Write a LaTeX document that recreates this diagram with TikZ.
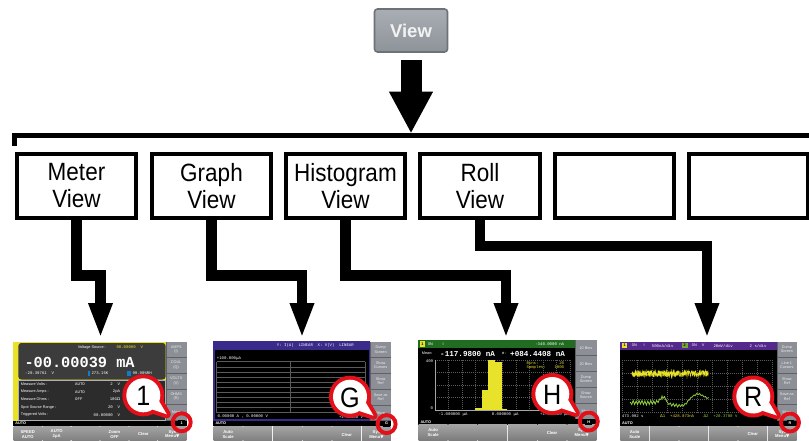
\documentclass[tikz,border=0pt]{standalone}
\usepackage{fontspec}
\setmainfont{Liberation Sans}
\newfontfamily\lab{Liberation Sans}[FakeStretch=0.9]
\newfontfamily\monof{Liberation Mono}
\newfontfamily\dvf{DejaVu Sans}
\usetikzlibrary{arrows.meta}
\definecolor{btntop}{HTML}{A9AEB5}
\definecolor{btnbot}{HTML}{8E939A}
\definecolor{btnedge}{HTML}{6E7276}
\definecolor{calred}{HTML}{E3101A}
\definecolor{scrdark}{HTML}{3C3C3C}
\definecolor{scrdarkb}{HTML}{2C2C2C}
\definecolor{keygray}{HTML}{8C9096}
\definecolor{keyline}{HTML}{5E6166}
\definecolor{bkeytop}{HTML}{A4A4A4}
\definecolor{bkeybot}{HTML}{7A7A7A}
\definecolor{myyel}{HTML}{E8E22A}
\definecolor{gpurple}{HTML}{3A2A8A}
\definecolor{rpurple}{HTML}{55288C}
\definecolor{hgreen}{HTML}{226C22}
\definecolor{tracegreen}{HTML}{8FD23A}
\definecolor{gridgray}{HTML}{5A5A5A}

% #1 main width, #2 total width, #3 side keys, #4 bottom keys
\newcommand\ScreenChrome[4]{%
  \fill[keygray] (#1,0) rectangle (#2,79);
  \foreach \k [count=\i from 0] in {#3} {
    \node[skey] at ({(#1+#2)/2},{7.9+15.8*\i}) {\k};
    \draw[keyline, line width=0.8pt] (#1,{15.8*(\i+1)}) -- (#2,{15.8*(\i+1)});
  }
  \draw[keyline, line width=0.8pt] ({#1+0.4},0) -- ({#1+0.4},79);
  \fill[black] (0,79) rectangle (#2,84.6);
  \node[tinyb, anchor=west] at (2,81.8) {AUTO};
  \foreach \k [count=\i from 0] in {#4} {
    \shade[top color=bkeytop, bottom color=bkeybot] ({#2/6*\i+0.4},84.6) rectangle ({#2/6*(\i+1)-0.4},101);
    \node[bkeytxt] at ({#2/6*(\i+0.5)},92.8) {\k};
  }
}
% #1 letter, #2 #3 bubble centre, #4 #5 ring centre
\newcommand\Callout[5]{%
  \draw[calred, line width=8pt, line join=round] (#2,#3) circle (17);
  \draw[calred, line width=8pt, line join=round] ({#2+15.9},{#3+6.1}) -- ({#2+23.5},{#3+19}) -- ({#2+9.3},{#3+14.3}) -- cycle;
  \fill[white] (#2,#3) circle (17);
  \fill[white] ({#2+15.9},{#3+6.1}) -- ({#2+23.5},{#3+19}) -- ({#2+9.3},{#3+14.3}) -- cycle;
  \node[inner sep=0pt, font=\lab\fontsize{28}{28}\selectfont] at ({#2},{#3+0.8}) {#1};
  \node[tinyb, anchor=east] at ({#4-7},81.8) {L};
  \fill[black] ({#4-3.5},78.8) rectangle ({#4+3.5},84.8);
  \node[tinyb] at (#4,81.8) {#1};
  \draw[calred, line width=3.9pt] (#4,#5) circle (9);
}

\begin{document}
\begin{tikzpicture}[x=1pt,y=-1pt,
  viewbox/.style={draw, line width=4pt, minimum width=119.5pt, minimum height=64pt, inner sep=0pt, align=center, font=\lab\fontsize{25}{27}\selectfont},
  conn/.style={line width=10.5pt, line join=miter, -{Triangle[width=22pt,length=35pt]}},
  viewbtn/.style={draw=btnedge, line width=1.6pt, rounded corners=3pt, top color=btntop, bottom color=btnbot, minimum width=73pt, minimum height=43pt, inner sep=0pt, text=white!95!black, font=\bfseries\fontsize{18.5}{18.5}\selectfont},
  tiny/.style={inner sep=0pt, font=\fontsize{3.8}{4.3}\selectfont, text=white},
  tinyb/.style={inner sep=0pt, font=\bfseries\fontsize{3.8}{4.3}\selectfont, text=white},
  tmono/.style={inner sep=0pt, font=\monof\fontsize{4}{4.5}\selectfont, text=white},
  skey/.style={inner sep=0pt, align=center, font=\fontsize{3.8}{4.4}\selectfont, text=white!92!black},
  bkeytxt/.style={inner sep=0pt, align=center, font=\bfseries\fontsize{4.2}{4.8}\selectfont, text=white}]
\useasboundingbox (0,0) rectangle (809,440);

% top button and arrow
\node[viewbtn] (view) at (411,30.5) {View};
\coordinate (bartop) at (411,133.5);
\draw[line width=21pt, -{Triangle[width=41pt,length=42pt]}] ([yshift=-7pt]view.south) -- (bartop);

% bracket bar
\coordinate (barL) at (14,146);
\coordinate (barR) at (812,135.5);
\draw[line width=5pt, line join=miter] (barL) |- (barR);

% view boxes
\node[viewbox] (meter) at (76.5,186) {Meter\\View};
\node[viewbox] (graph) at (211.5,186) {Graph\\View};
\node[viewbox] (hist) at (345.5,186) {Histogram\\View};
\node[viewbox] (roll) at (480,186) {Roll\\View};
\node[viewbox] (b5) at (614.5,186) {};
\node[viewbox] (b6) at (748.5,186) {};

% arrow targets
\coordinate (t1) at (100.5,338);
\coordinate (t2) at (302,338);
\coordinate (t3) at (506,338);
\coordinate (t4) at (707,338);

\draw[conn] (meter.south) -- ++(0,55.5) -| (t1);
\draw[conn] (graph.south) -- ++(0,55.5) -| (t2);
\draw[conn] (hist.south) -- ++(0,55.5) -| (t3);
\draw[conn] (roll.south) -- ++(0,26) -| (t4);

% ---------- Meter screen ----------
\begin{scope}[shift={(13.3,341.5)}]
  \fill[myyel] (0,0) rectangle (152.4,79);
  \fill[scrdark, rounded corners=3pt] (5,1.5) rectangle (152.4,38);
  \filldraw[fill=scrdarkb, draw=gray!60, line width=0.8pt] (5.4,38.4) rectangle (152.4,78.6);
  \node[tiny, anchor=west] at (64.4,6) {Voltage Source :};
  \node[tmono, anchor=west, text=myyel] at (103,6) {00.00000\ \ V};
  \node[inner sep=0pt, anchor=west, text=white, font=\monof\bfseries\fontsize{15.3}{15.3}\selectfont] at (11,20.5) {-00.00039 mA};
  \node[tmono, anchor=west] at (11.7,32) {-20.39761\ \ V};
  \fill[cyan!60!blue] (75,29.5) rectangle (76.2,34);
  \node[tmono, anchor=west] at (78,32) {273.15K};
  \fill[cyan!60!blue] (114,29.5) rectangle (115.2,34);
  \fill[cyan!60!blue] (116,29.5) rectangle (117.2,34);
  \node[tmono, anchor=west] at (119,32) {99.90\%RH};
  \node[tiny, anchor=west] at (7.4,42.6) {Measure Volts :};
  \node[tiny, anchor=west] at (7.4,50.2) {Measure Amps :};
  \node[tiny, anchor=west] at (7.4,58) {Measure Ohms :};
  \node[tiny, anchor=west] at (7.4,65.6) {Spot Source Range :};
  \node[tiny, anchor=west] at (7.4,73.4) {Triggered Volts :};
  \node[tmono, anchor=west] at (61.7,42.6) {AUTO};
  \node[tmono, anchor=west] at (61.7,50.2) {AUTO};
  \node[tmono, anchor=west] at (61.7,58) {OFF};
  \node[tmono, anchor=east] at (107,42.6) {2\ \ V};
  \node[tmono, anchor=east] at (107,50.2) {2pA};
  \node[tmono, anchor=east] at (107,58) {10G{\dvf Ω}};
  \node[tmono, anchor=east] at (107,65.6) {20\ \ V};
  \node[tmono, anchor=east] at (107,73.4) {00.00000\ \ V};
  \ScreenChrome{152.4}{173.4}{{AMPS\\(I)},{COUL\\(Q)},{VOLTS\\(V)},{OHMS\\(R)},{More}}{{SPEED\\AUTO},{AUTO\\2pA},{},{Zoom\\OFF},{Clear},{Sys\\Menu{\dvf ▼}}}
  \Callout{1}{130}{53.8}{168.4}{80.8}
\end{scope}

% ---------- Graph screen ----------
\begin{scope}[shift={(213.3,341.7)}]
  \fill[black] (0,0) rectangle (156.7,79);
  \fill[gpurple] (0,0) rectangle (156.7,8);
  \draw[gpurple, line width=1.4pt] (0.7,0) rectangle (156,78.3);
  \node[tmono, anchor=west] at (63.4,4.2) {Y: I(A)\ \ LINEAR\ \ X: V(V)\ \ LINEAR};
  \foreach \j in {0,1,2,3,4,5,6,7,8,9,10} \draw[gridgray, line width=0.5pt] (3.4,{20+5.1*\j}) -- (152,{20+5.1*\j});
  \draw[gridgray, line width=0.5pt] (3.4,20) -- (3.4,71) (76.7,20) -- (76.7,71) (152,20) -- (152,71);
  \node[tmono, anchor=west] at (3.4,16.7) {+100.000{\dvf μ}A};
  \node[tmono, anchor=west] at (4,75) {0.00000 A , 0.00000 V};
  \node[tmono, anchor=east] at (150,75) {+1.00000 V};
  \ScreenChrome{156.7}{178}{{Dump\\Screen},{Show\\Cursors},{Show\\Ref},{Save as\\Ref},{More}}{{Auto\\Scale},{},{},{},{Clear},{Sys\\Menu{\dvf ▼}}}
  \Callout{G}{136.7}{55}{173.3}{82.4}
\end{scope}

% ---------- Histogram screen ----------
\begin{scope}[shift={(418.3,340)}]
  \fill[black] (0,0) rectangle (156.7,79);
  \fill[hgreen] (0,0) rectangle (156.7,8);
  \fill[myyel] (1.8,1.2) rectangle (6.6,6.8);
  \node[tinyb, text=black] at (4.2,4.1) {1};
  \node[tiny, anchor=west] at (9.5,4.1) {0N};
  \node[tiny, anchor=west] at (24,4.1) {I};
  \node[tmono, anchor=east] at (146,4.1) {-340.0000 nA};
  \node[tiny, anchor=west] at (3.4,13.6) {Mean:};
  \node[inner sep=0pt, anchor=west, text=white, font=\monof\bfseries\fontsize{7.6}{7.6}\selectfont] at (21.7,13.6) {-117.9800 nA};
  \node[tiny, anchor=west] at (83.4,13.6) {{\dvf σ} :};
  \node[inner sep=0pt, anchor=west, text=white, font=\monof\bfseries\fontsize{7.6}{7.6}\selectfont] at (91.7,13.6) {+084.4408 nA};
  \foreach \j in {0,1,2,3,4,5,6,7,8,9,10} \draw[gridgray, line width=0.4pt, dash pattern=on 1pt off 1pt] ({16.7+13.5*\j},20) -- ({16.7+13.5*\j},70);
  \foreach \j in {0,1,2,3,4} \draw[gridgray, line width=0.4pt, dash pattern=on 1pt off 1pt] (16.7,{20+12.5*\j}) -- (151.7,{20+12.5*\j});
  \draw[gray!70, line width=0.5pt] (16.7,20) -- (16.7,70) -- (151.7,70);
  \node[tmono, anchor=east] at (15,21.5) {409};
  \node[tmono, anchor=east] at (15,68.5) {0};
  \fill[myyel] (56.7,68.3) rectangle (63.4,70);
  \fill[myyel] (63.4,50) rectangle (70,70);
  \fill[myyel] (70,20) rectangle (76.7,70);
  \fill[myyel] (76.7,22.3) rectangle (83.4,70);
  \fill[myyel] (83.4,68.8) rectangle (88.4,70);
  \node[tmono, anchor=west, text=myyel] at (108,22.7) {Bins:};
  \node[tmono, anchor=east, text=myyel] at (146,22.7) {20};
  \node[tmono, anchor=west, text=myyel] at (108,27.3) {Samples:};
  \node[tmono, anchor=east, text=myyel] at (146,27.3) {1000};
  \node[tmono, anchor=west] at (20,74.2) {-1.000000 {\dvf μ}A};
  \node[tmono, anchor=west] at (73.4,74.2) {0.000000 {\dvf μ}A};
  \node[tmono, anchor=east] at (151,74.2) {+1.000000 {\dvf μ}A};
  \ScreenChrome{156.7}{178.4}{{10 Bins},{20 Bins},{Dump\\Screen},{Show\\Source},{More}}{{Auto\\Scale},{},{},{},{Clear},{Sys\\Menu{\dvf ▼}}}
  \Callout{H}{134}{54}{170.5}{81.5}
\end{scope}

% ---------- Roll screen ----------
\begin{scope}[shift={(620,341.5)}]
  \fill[black] (0,0) rectangle (156.7,79);
  \fill[rpurple] (0,0) rectangle (156.7,8);
  \fill[myyel] (2.3,1.2) rectangle (6.9,6.8);
  \node[tinyb, text=black] at (4.6,4.1) {1};
  \node[tiny, anchor=west] at (11.7,4.1) {0N};
  \node[tiny, anchor=west] at (23.3,4.1) {I};
  \node[tmono, anchor=west] at (31.7,4.1) {500nA/div};
  \fill[tracegreen!80!black] (61.7,1.2) rectangle (67.7,6.8);
  \node[tinyb, text=black] at (64.7,4.1) {2};
  \node[tiny, anchor=west] at (71.7,4.1) {0N};
  \node[tiny, anchor=west] at (81.7,4.1) {V};
  \node[tmono, anchor=west] at (93.3,4.1) {20mV/div};
  \node[tmono, anchor=east] at (146.7,4.1) {2 s/div};
  \foreach \j in {0,1,2,3,4,5,6,7,8,9,10} \draw[gridgray, line width=0.4pt, dash pattern=on 1pt off 1pt] ({1.7+15*\j},18.3) -- ({1.7+15*\j},70.7);
  \foreach \j in {0,1,2,3,4} \draw[gridgray, line width=0.4pt, dash pattern=on 1pt off 1pt] (1.7,{18.3+13.1*\j}) -- (151.7,{18.3+13.1*\j});
  \pgfmathsetseed{11}
  \draw[myyel, line width=0.45pt] plot[domain=11.7:88.3, samples=260] (\x,{32.3+3.4*rand});
  \draw[myyel, line width=0.45pt] plot[domain=11.7:88.3, samples=200] (\x,{32+2.6*rand});
  \begin{scope}[xscale=0.977]
  \draw[tracegreen, line width=0.8pt] (10.5,60.5) -- (12,63) -- (13.5,59) -- (15,63) -- (16.5,59.5) -- (18,63) -- (19.5,59) -- (21,62.5) -- (22.5,59) -- (24,63) -- (25.5,59.5) -- (27,63.5) -- (28.5,59.5) -- (30,63) -- (31.5,59) -- (33,62.5) -- (34.5,59.5) -- (36,62.5) -- (37.5,59) -- (39,61) -- (40.5,57.5) -- (42,58) -- (43,54.5) -- (44,57) -- (45.5,55) -- (47,58.5) -- (48.5,61) -- (50,63) -- (51.5,61.5) -- (53,64.5) -- (54.5,62) -- (56,65) -- (57.5,62.5) -- (59,65.5) -- (60.5,63) -- (62,65) -- (63.5,63) -- (65,64.5) -- (66.5,62) -- (68,62.5) -- (69.5,59) -- (71,58.5) -- (72.5,56) -- (74,55.5) -- (75.5,53.5) -- (77,54) -- (78.5,52) -- (80,53) -- (81.5,52) -- (83,54) -- (84.5,53.5) -- (86,55.5) -- (87.5,55) -- (89,57) -- (90.7,56);
  \end{scope}
  \node[tmono, anchor=west] at (1.7,75) {473.992 s};
  \node[tmono, anchor=west, text=myyel] at (40,75) {{\dvf Δ}1\ \ +428.073nA};
  \node[tmono, anchor=west, text=tracegreen] at (83.3,75) {{\dvf Δ}2\ \ +20.3700 V};
  \ScreenChrome{156.7}{177}{{Dump\\Screen},{Line 1\\Cursors},{Show\\Ref},{Save as\\Ref},{More}}{{Auto\\Scale},{},{},{},{Clear},{Sys\\Menu{\dvf ▼}}}
  \Callout{R}{133.3}{55}{170}{81}
\end{scope}
\end{tikzpicture}
\end{document}
